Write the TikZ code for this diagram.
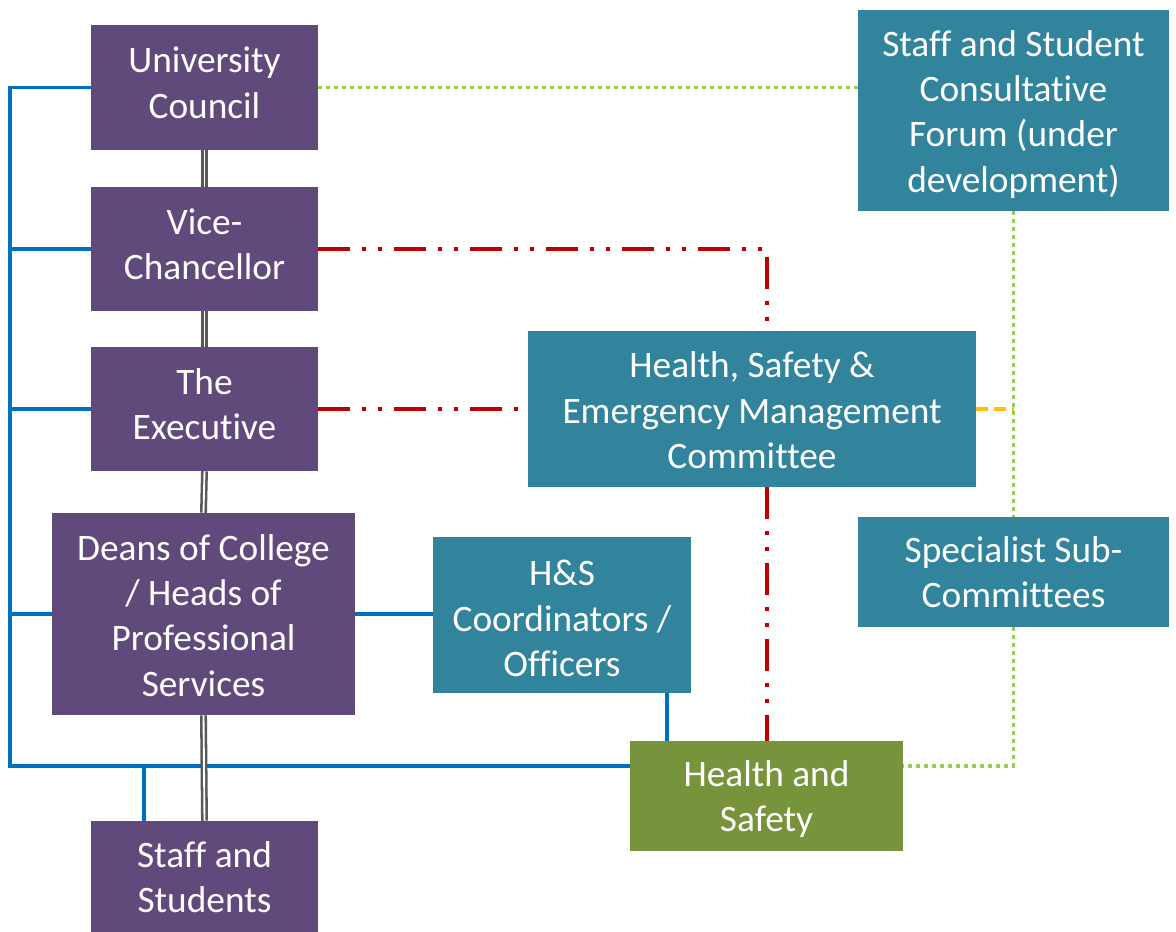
\documentclass[tikz,border=0pt]{standalone}
\usepackage{fontspec}
\setmainfont{Carlito}[Ligatures=NoCommon]
\definecolor{boxpurple}{HTML}{604A7B}
\definecolor{boxteal}{HTML}{31849B}
\definecolor{boxgreen}{HTML}{77933C}
\definecolor{lineblue}{HTML}{0070C0}
\definecolor{linered}{HTML}{C00000}
\definecolor{lineorange}{HTML}{FFC000}
\definecolor{linegreen}{HTML}{92D050}
\definecolor{linegrey}{HTML}{595959}
% centred lines of box text, optionally nudged up or down without changing the box
\newcommand\boxlines[2][0pt]{\raisebox{#1}[\height][\depth]{\begin{tabular}{@{}c@{}}#2\end{tabular}}}
\begin{document}
\begin{tikzpicture}[x=0.75pt,y=-0.75pt,
  box/.style={inner sep=0pt, align=center, text=white,
    font=\fontsize{28pt}{34pt}\selectfont},
  purplebox/.style={box, fill=boxpurple},
  tealbox/.style={box, fill=boxteal},
  greenbox/.style={box, fill=boxgreen},
  reports/.style={draw=lineblue, line width=2.4pt},
  chain/.style={draw=linegrey, double=white, line width=1.9pt, double distance=1.4pt},
  advises/.style={draw=linered, line width=3pt,
    dash pattern=on 24pt off 9pt on 3pt off 9pt on 3pt off 9pt},
  consults/.style={draw=linegreen, line width=2.6pt, dash pattern=on 3pt off 3pt},
  liaises/.style={draw=lineorange, line width=3.6pt, dash pattern=on 9pt off 4.5pt}]
\useasboundingbox (0,0) rectangle (1176,931);
\fill[white] (0,0) rectangle (1176,931);

% left-hand line of management
\node[purplebox, minimum width=170.25pt, minimum height=93.75pt] (uc) at (204.5,87.5) {\boxlines[0.75pt]{University\\Council}};
\node[purplebox, minimum width=170.25pt, minimum height=93pt] (vc) at (204.5,249) {\boxlines[0.75pt]{Vice-\\Chancellor}};
\node[purplebox, minimum width=170.25pt, minimum height=93pt] (exec) at (204.5,409) {\boxlines[0.75pt]{The\\Executive}};
\node[purplebox, minimum width=227.25pt, minimum height=151.5pt] (deans) at (203.5,614) {\boxlines[-3.75pt]{Deans of College\\/ Heads of\\Professional\\Services}};
\node[purplebox, minimum width=170.25pt, minimum height=85.5pt] (staff) at (204.5,878) {\boxlines[-2.25pt]{Staff and\\Students}};

% committees and support
\node[tealbox, minimum width=233.25pt, minimum height=150.75pt] (sscf) at (1013.5,110.5) {\boxlines[-3.35pt]{Staff and Student\\Consultative\\Forum (under\\development)}};
\node[tealbox, minimum width=336pt, minimum height=117pt] (hsemc) at (752,409) {\boxlines[-3.75pt]{Health, Safety \&\\Emergency Management\\Committee}};
\node[tealbox, minimum width=193.5pt, minimum height=117pt] (coord) at (562,615) {\boxlines[-5.25pt]{H\&S\\Coordinators /\\Officers}};
\node[tealbox, minimum width=233.25pt, minimum height=82.5pt] (spec) at (1013.5,572) {\boxlines[-3pt]{Specialist Sub-\\Committees}};
\node[greenbox, minimum width=204.75pt, minimum height=82.5pt] (hs) at (766.5,796) {\boxlines[-3pt]{Health and\\Safety}};

\coordinate (railtop) at (10,87.5);
\coordinate (railbot) at (10,766);
\coordinate (drop) at (144,766);
\coordinate (coordx) at (667,0);

% blue reporting rail
\draw[reports, line join=miter] (uc.west) -- (railtop) -- (railbot) -- (railbot -| hs.west);
\draw[reports] (vc.west) -- (vc.west -| railtop);
\draw[reports] (exec.west) -- (exec.west -| railtop);
\draw[reports] (deans.west) -- (deans.west -| railtop);
\draw[reports] (drop) -- (drop |- staff.north);
\draw[reports] (deans.east) -- (deans.east -| coord.west);
\draw[reports] (coordx |- coord.south) -- (coordx |- hs.north);

% grey double line of authority
\draw[chain] (uc.south) -- (vc.north);
\draw[chain] (vc.south) -- (exec.north);
\draw[chain] (exec.south) -- (deans.north);
\draw[chain] (deans.south) -- (staff.north);

% red advisory links
\draw[advises] (vc.east) -- (hs.north |- vc.east) -- (hs.north |- hsemc.north);
\draw[advises] (exec.east) -- (hsemc.west);
\draw[advises] (hs.north |- hsemc.south) -- (hs.north);

% green consultation links
\draw[consults] (uc.east) -- (uc.east -| sscf.west);
\draw[consults] (sscf.south) -- (spec.north);
\draw[consults] (spec.south) -- (spec.south |- railbot) -- (railbot -| hs.east);

% orange liaison
\draw[liaises] (hsemc.east) -- (hsemc.east -| sscf.south);
\end{tikzpicture}
\end{document}
